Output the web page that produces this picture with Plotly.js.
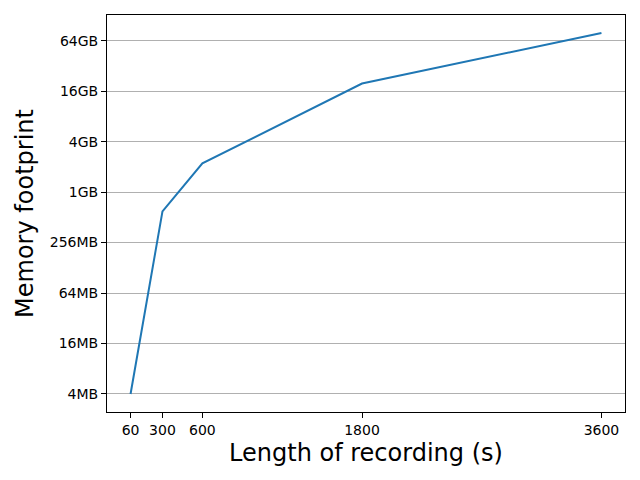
<!DOCTYPE html>
<html>
<head>
<meta charset="utf-8">
<script src="https://cdn.plot.ly/plotly-3.0.1.min.js"></script>
<style>html,body{margin:0;padding:0;background:#fff}#chart{width:640px;height:480px}</style>
</head>
<body>
<div id="chart"></div>
<script>
// Recording length in seconds
const lengths = [60, 300, 600, 1800, 3600];
// Memory footprint in MB
const memoryMB = [4, 603, 2257, 20220, 80870];
// Y tick positions (MB) and labels
const yTickVals = [4, 16, 64, 256, 1024, 4096, 16384, 65536];
const yTickText = ["4MB", "16MB", "64MB", "256MB", "1GB", "4GB", "16GB", "64GB"];
const xTickVals = [60, 300, 600, 1800, 3600];

const trace = {
  x: lengths,
  y: memoryMB,
  type: 'scatter',
  mode: 'lines',
  line: {color: '#1f77b4', width: 2},
  hoverinfo: 'skip'
};

const axisFont = {family: 'DejaVu Sans', size: 14, color: '#000'};
const titleFont = {family: 'DejaVu Sans', size: 24, color: '#000'};
const layout = {
  width: 640,
  height: 480,
  margin: {l: 107, r: 15, t: 15, b: 68},
  paper_bgcolor: '#fff',
  plot_bgcolor: '#fff',
  showlegend: false,
  font: axisFont,
  xaxis: {
    range: [-117, 3777],
    tickvals: xTickVals,
    ticktext: xTickVals.map(String),
    ticks: 'outside',
    ticklen: 5,
    tickwidth: 1,
    tickcolor: '#000',
    showgrid: false,
    zeroline: false,
    showline: true,
    linecolor: '#000',
    linewidth: 1,
    mirror: true,
    tickfont: axisFont,
    title: {text: 'Length of recording (s)', font: titleFont, standoff: 7}
  },
  yaxis: {
    type: 'log',
    range: [0.387, 5.123],
    tickvals: yTickVals,
    ticktext: yTickText,
    ticks: 'outside',
    ticklen: 5,
    tickwidth: 1,
    tickcolor: '#000',
    showgrid: true,
    gridcolor: '#b0b0b0',
    gridwidth: 1,
    zeroline: false,
    showline: true,
    linecolor: '#000',
    linewidth: 1,
    mirror: true,
    tickfont: axisFont,
    title: {text: 'Memory footprint', font: titleFont, standoff: 9}
  }
};

Plotly.newPlot('chart', [trace], layout, {staticPlot: true, displayModeBar: false});
</script>
</body>
</html>
